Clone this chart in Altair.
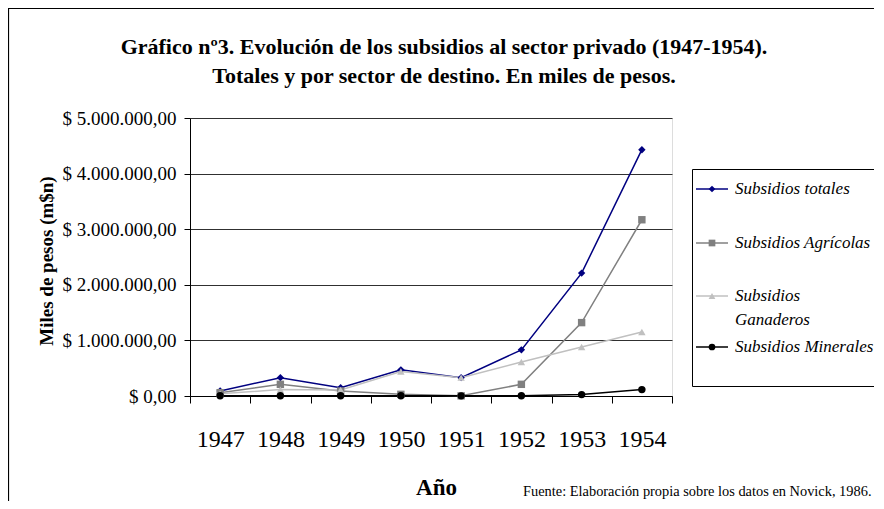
import altair as alt
import pandas as pd

years = ["1947", "1948", "1949", "1950", "1951", "1952", "1953", "1954"]
series = ["Subsidios totales", "Subsidios Agrícolas", "Subsidios Ganaderos", "Subsidios Minerales"]
totales = [90000, 330000, 150000, 470000, 330000, 830000, 2210000, 4430000]
agricolas = [60000, 210000, 90000, 30000, 3000, 210000, 1320000, 3170000]
ganaderos = [40000, 115000, 110000, 440000, 330000, 610000, 880000, 1150000]
minerales = [5000, 5000, 5000, 5000, 3000, 5000, 25000, 115000]
colors = ["#000080", "#808080", "#C0C0C0", "#000000"]
shapes = ["diamond", "square", "triangle-up", "circle"]
y_ticks = [0, 1000000, 2000000, 3000000, 4000000, 5000000]

title_lines = ["Gráfico nº3. Evolución de los subsidios al sector privado (1947-1954).",
               "Totales y por sector de destino. En miles de pesos."]
y_title = "Miles de pesos (m$n)"
x_title = "Año"
source = "Fuente: Elaboración propia sobre los datos en Novick, 1986."

values = [totales, agricolas, ganaderos, minerales]
rows = []
for s, vals in zip(series, values):
    for y, v in zip(years, vals):
        rows.append({"year": y, "serie": s, "value": v})
df = pd.DataFrame(rows)

W, H = 482, 278
FONT = "Liberation Serif"

x_enc = alt.X("year:O", bandPosition=0.5,
              scale=alt.Scale(type="band", paddingInner=0, paddingOuter=0),
              axis=alt.Axis(title=x_title, labelAngle=0, labelFont=FONT, labelFontSize=24,
                            labelColor="#000", labelPadding=24, tickBand="extent",
                            tickSize=7, tickColor="#000", domainColor="#000",
                            titleFont=FONT, titleFontSize=23, titleFontWeight="bold",
                            titleColor="#000", titleX=246, titleY=91, titleBaseline="middle",
                            titleAnchor="start", titleAlign="center"))
y_enc = alt.Y("value:Q", scale=alt.Scale(domain=[0, 5000000], nice=False),
              axis=alt.Axis(title=None, values=y_ticks, format="$,.2f",
                            labelFont=FONT, labelFontSize=19, labelColor="#000",
                            labelPadding=8, tickSize=6, tickColor="#000",
                            domainColor="#000", gridColor="#303030", gridOpacity=1))
color_enc = alt.Color("serie:N", scale=alt.Scale(domain=series, range=colors), legend=None)
shape_enc = alt.Shape("serie:N", scale=alt.Scale(domain=series, range=shapes), legend=None)

base = alt.Chart(df)
lines = base.mark_line(strokeWidth=1.5).encode(x=x_enc, y=y_enc, color=color_enc, detail="serie:N")
points = base.mark_point(filled=True, size=55, opacity=1).encode(
    x=x_enc, y=y_enc, color=color_enc, shape=shape_enc)

one = pd.DataFrame({"a": [0]})

def txt(text, x, y, size, weight="normal", align="center", angle=0, style="normal"):
    return alt.Chart(one).mark_text(text=text, font=FONT, fontSize=size, fontWeight=weight,
                                    align=align, baseline="middle", angle=angle,
                                    fontStyle=style, color="#000").encode(
        x=alt.value(x), y=alt.value(y))

layers = [lines, points]
layers.append(txt(title_lines[0], 254, -71, 22, "bold"))
layers.append(txt(title_lines[1], 254, -42, 22, "bold"))
layers.append(txt(y_title, -143, 143, 19, "bold", angle=270))
layers.append(txt(source, 333, 374, 14.4, align="left"))

# outer border
layers.append(alt.Chart(one).mark_rect(fill=None, stroke="#000", strokeWidth=1.2).encode(
    x=alt.value(-181.5), x2=alt.value(1000), y=alt.value(-109.5), y2=alt.value(1000)))

# legend
layers.append(alt.Chart(one).mark_rect(fill="white", stroke="#000", strokeWidth=1).encode(
    x=alt.value(502.5), x2=alt.value(900), y=alt.value(51.5), y2=alt.value(268.5)))
leg_y = [71, 125, 178, 229]
leg_labels = ["Subsidios totales", "Subsidios Agrícolas", "Subsidios\nGanaderos", "Subsidios Minerales"]
for i, s in enumerate(series):
    layers.append(alt.Chart(one).mark_rule(color=colors[i], strokeWidth=1.5).encode(
        x=alt.value(506), x2=alt.value(538), y=alt.value(leg_y[i])))
    layers.append(alt.Chart(one).mark_point(filled=True, size=45, opacity=1, color=colors[i],
                                            shape=shapes[i]).encode(
        x=alt.value(522), y=alt.value(leg_y[i])))
    layers.append(alt.Chart(one).mark_text(text=leg_labels[i], font=FONT, fontSize=17,
                                           fontStyle="italic", align="left", baseline="middle",
                                           lineBreak="\n", lineHeight=24, color="#000").encode(
        x=alt.value(545), y=alt.value(leg_y[i])))

chart = alt.layer(*layers).properties(
    width=W, height=H,
    autosize=alt.AutoSizeParams(type="none"),
    padding={"left": 182, "top": 110, "right": 202, "bottom": 105},
    background="white",
).configure_view(stroke="#000", strokeWidth=1).configure(
    locale={"number": {"decimal": ",", "thousands": ".", "grouping": [3], "currency": ["$ ", ""]}}
)

chart.save("out.html", embed_options={"renderer": "svg", "actions": False})
